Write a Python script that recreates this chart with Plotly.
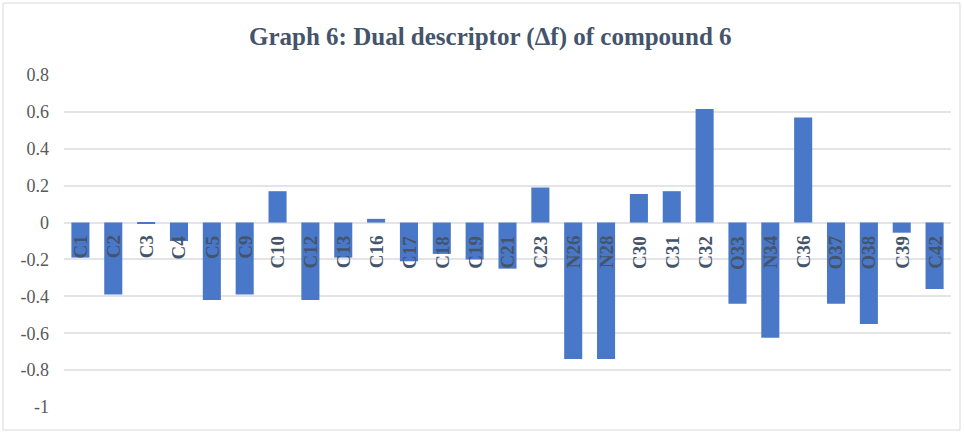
import plotly.graph_objects as go

atoms = ["C1", "C2", "C3", "C4", "C5", "C9", "C10", "C12", "C13", "C16", "C17", "C18",
         "C19", "C21", "C23", "N26", "N28", "C30", "C31", "C32", "O33", "N34", "C36",
         "O37", "O38", "C39", "C42"]
delta_f = [-0.19, -0.39, -0.005, -0.10, -0.42, -0.39, 0.17, -0.42, -0.19, 0.02, -0.21, -0.17,
           -0.20, -0.25, 0.19, -0.74, -0.74, 0.155, 0.17, 0.615, -0.44, -0.625, 0.57,
           -0.44, -0.55, -0.055, -0.36]
y_ticks = [0.8, 0.6, 0.4, 0.2, 0, -0.2, -0.4, -0.6, -0.8, -1]
y_tick_text = ["0.8", "0.6", "0.4", "0.2", "0", "-0.2", "-0.4", "-0.6", "-0.8", "-1"]
title_text = "Graph 6: Dual descriptor (\u0394f) of compound 6"

W, H = 964, 433
L, R, T, B = 64, 13, 75, 26
pw, ph = W - L - R, H - T - B

fig = go.Figure()
fig.add_trace(go.Bar(
    x=atoms, y=delta_f,
    marker=dict(color="#4A78C8", line=dict(width=0)),
    hoverinfo="x+y",
))

for a in atoms:
    fig.add_annotation(
        x=a, y=0, xref="x", yref="y",
        text="<b>%s</b>" % a, textangle=-90, showarrow=False,
        yanchor="top", xanchor="center", yshift=-11,
        font=dict(family="Liberation Serif", size=19, color="#44546A"),
    )

fig.add_annotation(
    xref="paper", yref="paper",
    x=(490 - L) / pw, y=(H - B - 37) / ph,
    text="<b>%s</b>" % title_text, showarrow=False,
    xanchor="center", yanchor="middle",
    font=dict(family="Liberation Serif", size=25, color="#44546A"),
)

fig.add_shape(type="rect", xref="paper", yref="paper",
              x0=(3 - L) / pw, x1=(960 - L) / pw,
              y0=(H - B - 430) / ph, y1=(H - B - 3) / ph,
              line=dict(color="#D9D9D9", width=1), fillcolor="rgba(0,0,0,0)", layer="below")

fig.update_layout(
    width=W, height=H,
    margin=dict(l=L, r=R, t=T, b=B),
    paper_bgcolor="white", plot_bgcolor="white",
    showlegend=False, bargap=0.45,
    font=dict(family="Liberation Serif", color="#595959"),
    xaxis=dict(showticklabels=False, showgrid=False, zeroline=False, showline=False,
               ticks=""),
    yaxis=dict(range=[-1, 0.8], tickvals=y_ticks, ticktext=y_tick_text,
               showgrid=True, gridcolor="#E3E3E8", gridwidth=1.5,
               zeroline=True, zerolinecolor="#E3E3E8", zerolinewidth=1.5,
               showline=False, ticks="", ticklabelstandoff=14,
               tickfont=dict(family="Liberation Serif", size=18, color="#595959")),
)

fig.write_html("out.html", config={"displayModeBar": False},
               post_script="document.body.style.margin='0';document.body.style.padding='0';window.dispatchEvent(new Event('resize'));")
